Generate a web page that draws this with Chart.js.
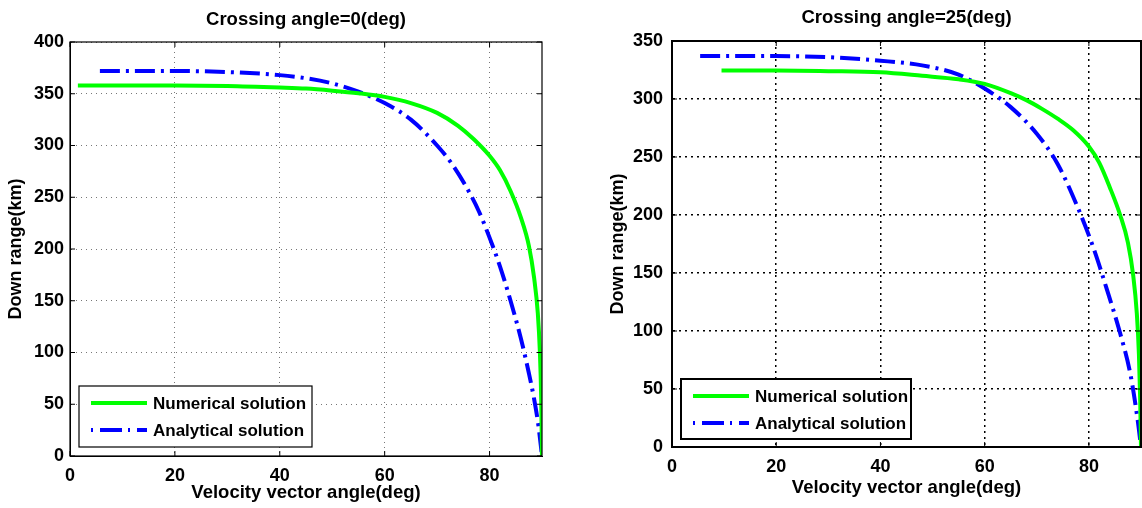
<!DOCTYPE html>
<html>
<head>
<meta charset="utf-8">
<script src="https://cdn.jsdelivr.net/npm/chart.js@4.4.1/dist/chart.umd.min.js"></script>
<style>
  body { margin: 0; background: #fff; }
  #left { position: absolute; left: 0; top: 0; }
  #right { position: absolute; left: 580px; top: 0; }
</style>
</head>
<body>
<canvas id="left" width="560" height="508"></canvas>
<canvas id="right" width="562" height="508"></canvas>
<script>
// crossing angle = 0 deg
var angleNum0 = [1.5, 10, 20, 30, 40, 45, 50, 55, 60, 65, 70, 74, 77, 80, 82, 84, 86, 87.5, 88.5, 89.2, 89.6, 89.85, 90];
var rangeNum0 = [358, 358, 358, 357.5, 356, 355, 353, 350.5, 347, 341, 331.5, 319, 306, 290, 276, 256, 230, 203, 172, 138, 100, 55, 0];
var angleAna0 = [5.7, 10, 20, 30, 40, 45, 50, 55, 60, 65, 70, 73, 76, 78, 80, 82, 84, 86, 87.5, 88.5, 89.3, 90];
var rangeAna0 = [372, 372, 372, 371, 368, 365, 360, 352, 341, 325, 300, 281, 256, 236, 211, 183, 150, 113, 80, 55, 30, 0];

// crossing angle = 25 deg
var angleNum25 = [9.5, 20, 30, 40, 48, 55, 60, 65, 68, 71, 74, 77, 80, 82, 84, 86, 87.5, 88.5, 89.2, 89.6, 89.85, 90];
var rangeNum25 = [324.5, 324.5, 324, 323, 320, 317, 313, 305, 299, 291.5, 283, 273, 259, 245, 224, 200, 176, 148, 115, 80, 40, 0];
var angleAna25 = [5.4, 20, 30, 40, 48, 55, 60, 65, 70, 74, 78, 81, 83.3, 86, 88, 89.4, 90];
var rangeAna25 = [337, 337, 336, 333, 329, 321, 309, 293, 270, 244, 205, 170, 138, 98, 62, 22, 0];

var seriesNames = ['Numerical solution', 'Analytical solution'];
var titles = ['Crossing angle=0(deg)', 'Crossing angle=25(deg)'];
var xTitle = 'Velocity vector angle(deg)';
var yTitle = 'Down range(km)';

var FONT = 'Arial, "Liberation Sans", Helvetica, sans-serif';
var GREEN = '#00ff00';
var BLUE = '#0000ff';
var DASHDOT = [20, 6, 3, 6];

function pairs(xs, ys) {
  var out = [];
  for (var i = 0; i < xs.length; i++) out.push({ x: xs[i], y: ys[i] });
  return out;
}

// title centred over the axes, box, inward ticks, legend in the lower left corner
var boxPlugin = {
  id: 'boxLegend',
  afterDraw: function(chart, args, o) {
    var ctx = chart.ctx;
    var a = chart.chartArea;
    var xs = chart.scales.x, ys = chart.scales.y;
    ctx.save();

    ctx.fillStyle = '#000';
    ctx.font = 'bold 18.5px ' + FONT;
    ctx.textAlign = 'center';
    ctx.textBaseline = 'middle';
    ctx.fillText(o.title, (a.left + a.right) / 2, o.titleY);

    ctx.strokeStyle = '#000';
    ctx.lineWidth = o.border;
    ctx.setLineDash([]);
    ctx.strokeRect(a.left, a.top, a.right - a.left, a.bottom - a.top);

    // inward tick marks
    ctx.lineWidth = 1;
    ctx.beginPath();
    xs.ticks.forEach(function(t) {
      var px = xs.getPixelForValue(t.value);
      ctx.moveTo(px, a.bottom); ctx.lineTo(px, a.bottom - 5);
      ctx.moveTo(px, a.top); ctx.lineTo(px, a.top + 5);
    });
    ys.ticks.forEach(function(t) {
      var py = ys.getPixelForValue(t.value);
      ctx.moveTo(a.left, py); ctx.lineTo(a.left + 5, py);
      ctx.moveTo(a.right, py); ctx.lineTo(a.right - 5, py);
    });
    ctx.stroke();

    // legend
    var lx = a.left + o.x, ly = a.bottom - o.yb - o.h;
    ctx.fillStyle = '#fff';
    ctx.fillRect(lx, ly, o.w, o.h);
    ctx.lineWidth = o.border;
    ctx.strokeStyle = '#000';
    ctx.strokeRect(lx, ly, o.w, o.h);
    var ds = chart.data.datasets;
    for (var i = 0; i < ds.length; i++) {
      var yy = ly + 17 + i * 27;
      ctx.beginPath();
      ctx.strokeStyle = ds[i].borderColor;
      ctx.lineWidth = 4;
      ctx.setLineDash(i == 0 ? [] : [2, 7, 22, 6]);
      ctx.moveTo(lx + 12, yy);
      ctx.lineTo(lx + 68, yy);
      ctx.stroke();
      ctx.setLineDash([]);
      ctx.fillStyle = '#000';
      ctx.font = 'bold 17px ' + FONT;
      ctx.textBaseline = 'middle';
      ctx.textAlign = 'left';
      ctx.fillText(ds[i].label, lx + 74, yy + 1);
    }
    ctx.restore();
  }
};

function makeChart(id, s) {
  var ctx = document.getElementById(id).getContext('2d');
  return new Chart(ctx, {
    type: 'line',
    data: {
      datasets: [{
        label: seriesNames[0],
        data: pairs(s.ax1, s.ay1),
        borderColor: GREEN,
        borderWidth: 4,
        pointRadius: 0,
        cubicInterpolationMode: 'monotone',
        fill: false
      }, {
        label: seriesNames[1],
        data: pairs(s.ax2, s.ay2),
        borderColor: BLUE,
        borderWidth: 4,
        borderDash: DASHDOT,
        borderCapStyle: 'butt',
        pointRadius: 0,
        cubicInterpolationMode: 'monotone',
        fill: false
      }]
    },
    options: {
      responsive: false,
      animation: false,
      devicePixelRatio: 1,
      layout: { padding: { left: 0, right: s.padRight, top: s.padTop, bottom: 0 } },
      plugins: {
        legend: { display: false },
        tooltip: { enabled: false },
        title: { display: false },
        boxLegend: {
          title: s.title, titleY: s.titleY,
          x: 9, yb: s.legYb, w: s.legW, h: s.legH, border: s.border
        }
      },
      scales: {
        x: {
          type: 'linear',
          min: 0, max: 90,
          afterFit: function(scale) { scale.height = s.xHeight; },
          ticks: {
            stepSize: 20,
            includeBounds: false,
            color: '#000',
            padding: s.xTickPad,
            maxRotation: 0,
            font: { family: FONT, size: 18, weight: 'bold' }
          },
          grid: { color: s.gridColor, lineWidth: s.gridWidth, drawTicks: false },
          border: { display: true, color: '#000', dash: s.gridDash },
          title: {
            display: true, text: xTitle, color: '#000',
            font: { family: FONT, size: 18.5, weight: 'bold' },
            padding: { top: 0, bottom: s.xTitlePad }
          }
        },
        y: {
          type: 'linear',
          min: 0, max: s.yMax,
          afterFit: function(scale) { scale.width = s.yWidth; },
          ticks: {
            stepSize: 50,
            color: '#000',
            padding: s.yTickPad,
            font: { family: FONT, size: 18, weight: 'bold' }
          },
          grid: { color: s.gridColor, lineWidth: s.gridWidth, drawTicks: false },
          border: { display: true, color: '#000', dash: s.gridDash },
          title: {
            display: true, text: yTitle, color: '#000',
            font: { family: FONT, size: 18, weight: 'bold' },
            padding: { top: s.yTitlePad, bottom: 0 }
          }
        }
      }
    },
    plugins: [boxPlugin]
  });
}

makeChart('left', {
  ax1: angleNum0, ay1: rangeNum0, ax2: angleAna0, ay2: rangeAna0,
  title: titles[0], titleY: 20, yMax: 400,
  padRight: 18, padTop: 42,
  xHeight: 52, yWidth: 70, xTickPad: 9, yTickPad: 6,
  xTitlePad: 4, yTitlePad: 5,
  gridColor: '#777', gridWidth: 1, gridDash: [1, 4], border: 1.2,
  legYb: 9, legW: 233, legH: 61
});

makeChart('right', {
  ax1: angleNum25, ay1: rangeNum25, ax2: angleAna25, ay2: rangeAna25,
  title: titles[1], titleY: 18, yMax: 350,
  padRight: 1, padTop: 41,
  xHeight: 61, yWidth: 92, xTickPad: 9, yTickPad: 9,
  xTitlePad: 9, yTitlePad: 27,
  gridColor: '#000', gridWidth: 1.5, gridDash: [2, 4], border: 2,
  legYb: 8, legW: 230, legH: 60
});
</script>
</body>
</html>
